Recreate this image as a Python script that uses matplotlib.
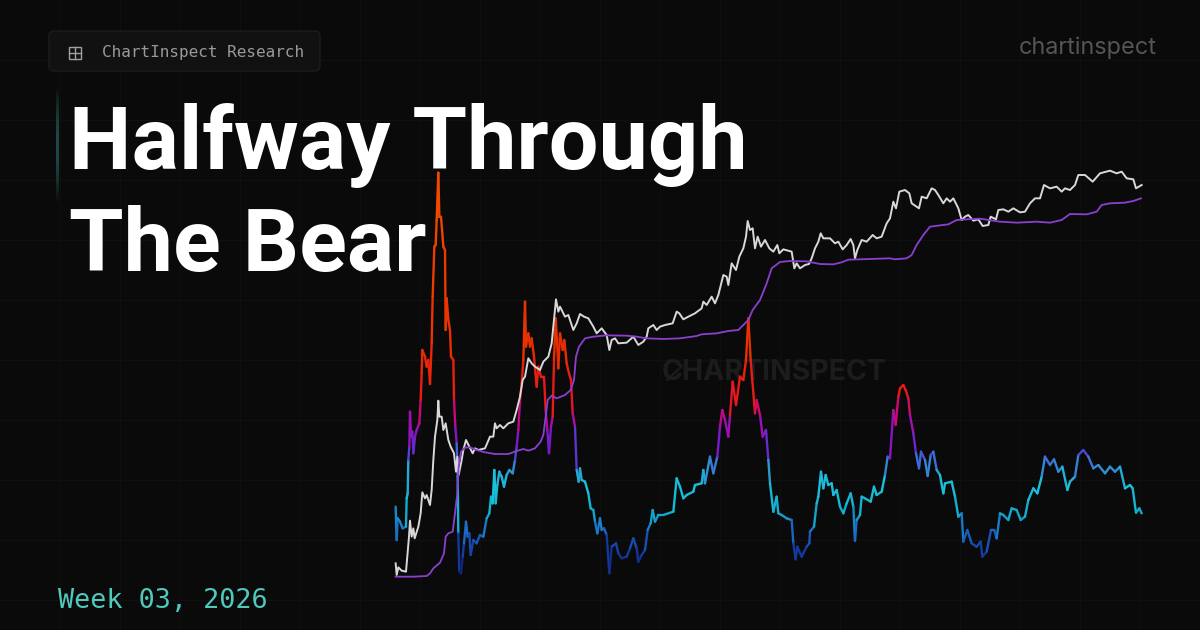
import matplotlib
matplotlib.use('Agg')
import matplotlib.pyplot as plt
import numpy as np
from matplotlib.collections import LineCollection
from matplotlib.colors import LinearSegmentedColormap
from matplotlib.patches import FancyBboxPatch, Rectangle

# readings from the 3x crops, split where the crops change
# crop a starts at pixel (380, 160), crop b at (660, 160), crop c at (660, 360)
price_a_x = [47, 50, 55, 65, 78, 82, 87, 90, 95, 100, 104, 115, 122, 127, 135, 140, 150, 155, 160, 165, 172, 175, 178, 185, 190, 197, 205, 212, 222, 228, 232, 236, 245, 250, 258, 268, 278, 285, 295, 315, 330, 340, 345, 350, 360, 370, 385, 400, 410, 420, 428, 435, 445, 455, 465, 480, 490, 505, 515, 522, 528, 535, 540, 555, 565, 580, 590, 600, 612, 625, 640, 650, 665, 680, 688, 695, 705, 715, 740, 760, 775, 790, 800, 805, 820, 830]
price_a_y = [1210, 1245, 1222, 1232, 1235, 1190, 1130, 1082, 1130, 1105, 1135, 1100, 1060, 997, 1015, 1005, 1035, 990, 900, 830, 780, 722, 770, 770, 810, 790, 840, 860, 880, 935, 890, 945, 900, 870, 840, 860, 880, 865, 870, 865, 830, 830, 790, 805, 795, 805, 790, 785, 750, 710, 660, 650, 595, 610, 620, 630, 605, 590, 550, 480, 418, 455, 440, 470, 465, 510, 490, 462, 470, 475, 500, 520, 505, 525, 570, 540, 535, 550, 548, 530, 555, 545, 530, 505, 495, 510]
price_b_x = [0, 15, 38, 50, 58, 70, 85, 105, 125, 130, 140, 155, 165, 175, 185, 190, 200, 205, 215, 228, 238, 250, 258, 263, 270, 278, 285, 293, 303, 315, 328, 340, 352, 358, 370, 395, 403, 410, 420, 435, 447, 455, 465, 475, 482, 490, 510, 525, 535, 548, 560, 572, 580, 585, 592, 605, 620, 638, 650, 665, 680, 690, 700, 708, 718, 735, 748, 755, 770, 777, 785, 800, 815, 825, 835, 850, 860, 870, 880, 895, 905, 915, 925, 940, 955, 968, 985, 992, 1008, 1015, 1030, 1045, 1060, 1080, 1095, 1110, 1125, 1140, 1152, 1170, 1190, 1205, 1215, 1230, 1245, 1255, 1275, 1298, 1320, 1350, 1370, 1385, 1400, 1420, 1428, 1445]
price_b_y = [500, 495, 490, 455, 460, 478, 470, 460, 445, 425, 435, 410, 430, 405, 365, 345, 350, 375, 310, 330, 290, 265, 230, 183, 210, 205, 265, 230, 260, 240, 265, 275, 255, 280, 268, 275, 325, 310, 325, 315, 312, 295, 265, 245, 220, 235, 235, 250, 245, 268, 255, 237, 255, 295, 270, 240, 245, 225, 235, 230, 190, 175, 125, 145, 95, 90, 100, 130, 140, 145, 110, 115, 85, 90, 105, 130, 115, 125, 115, 145, 180, 170, 165, 182, 178, 198, 195, 170, 178, 150, 148, 155, 145, 157, 155, 130, 115, 115, 75, 85, 80, 95, 85, 90, 75, 45, 45, 65, 40, 32, 40, 35, 55, 58, 85, 75]

realized_a_x = [47, 100, 140, 150, 160, 180, 192, 197, 205, 218, 225, 232, 236, 243, 255, 270, 290, 315, 345, 385, 410, 430, 445, 465, 482, 490, 497, 503, 515, 530, 555, 572, 582, 588, 597, 615, 640, 680, 740, 770, 800, 850, 900]
realized_a_y = [1250, 1250, 1248, 1240, 1225, 1208, 1180, 1130, 1120, 1115, 1060, 1000, 920, 875, 863, 862, 870, 877, 882, 882, 873, 867, 872, 865, 845, 825, 770, 720, 707, 715, 705, 690, 660, 590, 560, 535, 530, 526, 527, 530, 535, 537, 535]
realized_b_x = [110, 125, 170, 205, 235, 250, 265, 278, 300, 320, 335, 360, 390, 440, 480, 520, 545, 565, 630, 690, 705, 740, 755, 770, 790, 810, 865, 890, 920, 960, 1020, 1070, 1130, 1170, 1205, 1230, 1280, 1310, 1325, 1350, 1395, 1420, 1443]
realized_b_y = [528, 523, 520, 513, 510, 495, 480, 450, 420, 370, 325, 306, 303, 304, 312, 313, 307, 299, 297, 295, 298, 295, 285, 255, 225, 200, 193, 180, 178, 176, 185, 188, 185, 188, 180, 162, 163, 155, 135, 130, 128, 123, 115]

osc_a_x = [47, 50, 53, 60, 68, 78, 80, 83, 85, 88, 90, 93, 97, 100, 105, 110, 118, 122, 125, 127, 135, 140, 145, 150, 155, 158, 163, 167, 170, 175, 178, 183, 190, 195, 197, 200, 205, 210, 213, 220, 222, 226, 230, 233, 235, 238, 243, 248, 252, 258, 263, 268, 272, 280, 290, 300, 310, 320, 328, 333, 338, 343, 347, 352, 358, 365, 372, 380, 388, 398, 405, 410, 415, 420, 425, 430, 435, 438, 445, 450, 455, 462, 470, 475, 483, 492, 497, 502, 507, 513, 518, 522, 527, 532, 535, 540, 548, 553, 560, 567, 573, 578, 585, 590, 596, 600, 605, 615, 625, 632, 640, 645, 652, 660, 665, 672, 680, 688, 695, 708, 715, 725, 740, 750, 760, 770, 775, 785, 795, 803, 812, 818, 825, 835, 850, 880, 890, 900]
osc_a_y = [1040, 1140, 1075, 1085, 1105, 1100, 1015, 1000, 900, 860, 755, 830, 815, 880, 830, 810, 790, 720, 640, 570, 590, 620, 600, 672, 550, 410, 260, 255, 180, 38, 170, 170, 260, 270, 510, 415, 480, 510, 590, 600, 720, 800, 850, 950, 1120, 1235, 1240, 1190, 1150, 1085, 1130, 1120, 1185, 1140, 1150, 1125, 1130, 1075, 1060, 1010, 1030, 930, 1030, 975, 935, 950, 980, 945, 930, 940, 900, 860, 810, 720, 670, 600, 425, 560, 520, 560, 535, 590, 680, 620, 650, 650, 750, 810, 880, 800, 770, 600, 475, 560, 625, 520, 570, 540, 610, 640, 660, 760, 800, 930, 965, 925, 960, 965, 1000, 1045, 1050, 1085, 1120, 1075, 1110, 1105, 1125, 1240, 1160, 1150, 1180, 1195, 1190, 1165, 1135, 1165, 1205, 1185, 1170, 1110, 1090, 1050, 1085, 1065, 1065, 1055, 955, 980]
osc_c_x = [70, 80, 100, 105, 125, 130, 135, 150, 160, 172, 180, 187, 195, 205, 210, 218, 228, 240, 250, 258, 265, 272, 285, 290, 300, 308, 318, 325, 330, 340, 350, 355, 365, 380, 395, 400, 407, 412, 425, 440, 448, 450, 462, 470, 475, 483, 490, 497, 505, 515, 520, 530, 540, 550, 560, 572, 580, 585, 590, 600, 605, 615, 632, 642, 650, 665, 675, 683, 690, 700, 707, 715, 720, 730, 737, 745, 750, 760, 768, 777, 783, 795, 803, 812, 820, 830, 840, 850, 855, 875, 885, 895, 905, 910, 922, 935, 950, 962, 967, 980, 993, 1003, 1010, 1020, 1030, 1045, 1055, 1070, 1082, 1095, 1105, 1120, 1132, 1145, 1155, 1170, 1182, 1195, 1207, 1222, 1230, 1245, 1255, 1270, 1285, 1300, 1315, 1335, 1350, 1365, 1380, 1395, 1410, 1418, 1428, 1438, 1445]
osc_c_y = [415, 405, 395, 375, 370, 330, 370, 290, 340, 290, 200, 150, 180, 230, 165, 65, 135, 50, 60, 0, -125, 0, 160, 120, 165, 230, 210, 300, 370, 455, 410, 460, 465, 475, 480, 550, 598, 560, 590, 560, 550, 515, 500, 430, 410, 335, 385, 345, 375, 370, 405, 390, 440, 460, 430, 400, 440, 542, 480, 465, 410, 415, 425, 380, 405, 395, 345, 290, 295, 150, 195, 110, 85, 75, 90, 115, 165, 220, 280, 325, 275, 300, 348, 285, 275, 330, 345, 400, 370, 365, 410, 470, 460, 545, 510, 550, 560, 545, 590, 575, 510, 510, 535, 460, 465, 480, 445, 450, 480, 470, 420, 385, 400, 350, 290, 315, 298, 335, 320, 390, 365, 350, 285, 270, 290, 325, 315, 340, 320, 335, 320, 385, 375, 385, 458, 445, 460]

# oscillator colour follows its height on the canvas
osc_stops_y = [200, 340, 395, 412, 425, 440, 452, 462, 472, 485, 515, 532, 552, 575]
osc_stops_c = ['#f04a00', '#e83000', '#e81818', '#c80878', '#a010b0', '#7a18c8', '#5040d0', '#3a70d8', '#2a9ad4', '#18c4dc', '#12a8cc', '#1c66c4', '#123a9e', '#0a1a6e']

title_lines = ['Halfway Through', 'The Bear']
badge_text = 'ChartInspect Research'
week_text = 'Week 03, 2026'
brand_text = 'chartinspect'
watermark_text = 'CHARTINSPECT'

price_x = np.r_[380 + np.array(price_a_x) / 3, 660 + np.array(price_b_x) / 3]
price_y = 160 + np.r_[price_a_y, price_b_y] / 3
realized_x = np.r_[380 + np.array(realized_a_x) / 3, 660 + np.array(realized_b_x) / 3]
realized_y = 160 + np.r_[realized_a_y, realized_b_y] / 3
osc_x = np.r_[380 + np.array(osc_a_x) / 3, 660 + np.array(osc_c_x) / 3]
osc_y = np.r_[160 + np.array(osc_a_y) / 3, 360 + np.array(osc_c_y) / 3]

fig = plt.figure(figsize=(12, 6.3), dpi=100, facecolor='#0a0a0a')
ax = fig.add_axes([0, 0, 1, 1])
ax.set_xlim(0, 1200)
ax.set_ylim(630, 0)
ax.axis('off')

# background grid
for gx in range(60, 1200, 60):
    ax.axvline(gx, color='#0f0f0f', lw=1, zorder=0)
for gy in range(60, 630, 60):
    ax.axhline(gy, color='#101010', lw=1, zorder=0)

# watermark
ax.text(662, 373, watermark_text, color='#1c1c1c', fontsize=20.5, family='Inter',
        weight='bold', va='center', ha='left', zorder=1)
ax.plot([667, 682], [380, 366], color='#1e1a28', lw=1.5, zorder=1)

# oscillator, one segment per reading
pts = np.column_stack([osc_x, osc_y]).reshape(-1, 1, 2)
segs = np.concatenate([pts[:-1], pts[1:]], axis=1)
lo, hi = osc_stops_y[0], osc_stops_y[-1]
stops = [(s - lo) / (hi - lo) for s in osc_stops_y]
cmap = LinearSegmentedColormap.from_list('osc', list(zip(stops, osc_stops_c)))
lc = LineCollection(segs, cmap=cmap, lw=1.7, zorder=3, capstyle='round')
lc.set_array((osc_y[:-1] + osc_y[1:]) / 2)
lc.set_clim(lo, hi)
ax.add_collection(lc)

ax.plot(price_x, price_y, color='#d8d8d8', lw=1.4, zorder=4)
ax.plot(realized_x, realized_y, color='#8a3fd0', lw=1.3, zorder=5)

# title block
ax.text(69, 169, title_lines[0], color='white', fontsize=63.5, family='Roboto', weight='bold',
        va='baseline', ha='left', zorder=6)
ax.text(69, 271, title_lines[1], color='white', fontsize=63.5, family='Roboto', weight='bold',
        va='baseline', ha='left', zorder=6)
bar = np.linspace(0, 1, 60)[:, None]
ax.imshow(np.sin(bar * np.pi), extent=(55.5, 58, 205, 85), aspect='auto', zorder=2,
          cmap=LinearSegmentedColormap.from_list('bar', ['#0a0a0a', '#1d4a46']))
ax.set_xlim(0, 1200)
ax.set_ylim(630, 0)

# badge
ax.add_patch(FancyBboxPatch((49, 31), 271, 40, boxstyle='round,pad=0,rounding_size=5',
                            fc='#111111', ec='#1c1c1c', lw=1, zorder=2))
ax.add_patch(Rectangle((69, 47), 12, 12, fill=False, ec='#a0a0a0', lw=1, zorder=3))
ax.plot([75, 75], [47, 59], color='#a0a0a0', lw=1, zorder=3)
ax.plot([69, 81], [53, 53], color='#a0a0a0', lw=1, zorder=3)
ax.text(102, 52, badge_text, color='#999999', fontsize=11.5, family='DejaVu Sans Mono',
        va='center', ha='left', zorder=3)

ax.text(1019, 48, brand_text, color='#555555', fontsize=16.9, family='Inter',
        va='center', ha='left', zorder=3)
ax.text(58, 601, week_text, color='#4fc9bd', fontsize=19.3, family='DejaVu Sans Mono',
        va='center', ha='left', zorder=3)

fig.savefig('out.png', dpi=100, facecolor=fig.get_facecolor())
